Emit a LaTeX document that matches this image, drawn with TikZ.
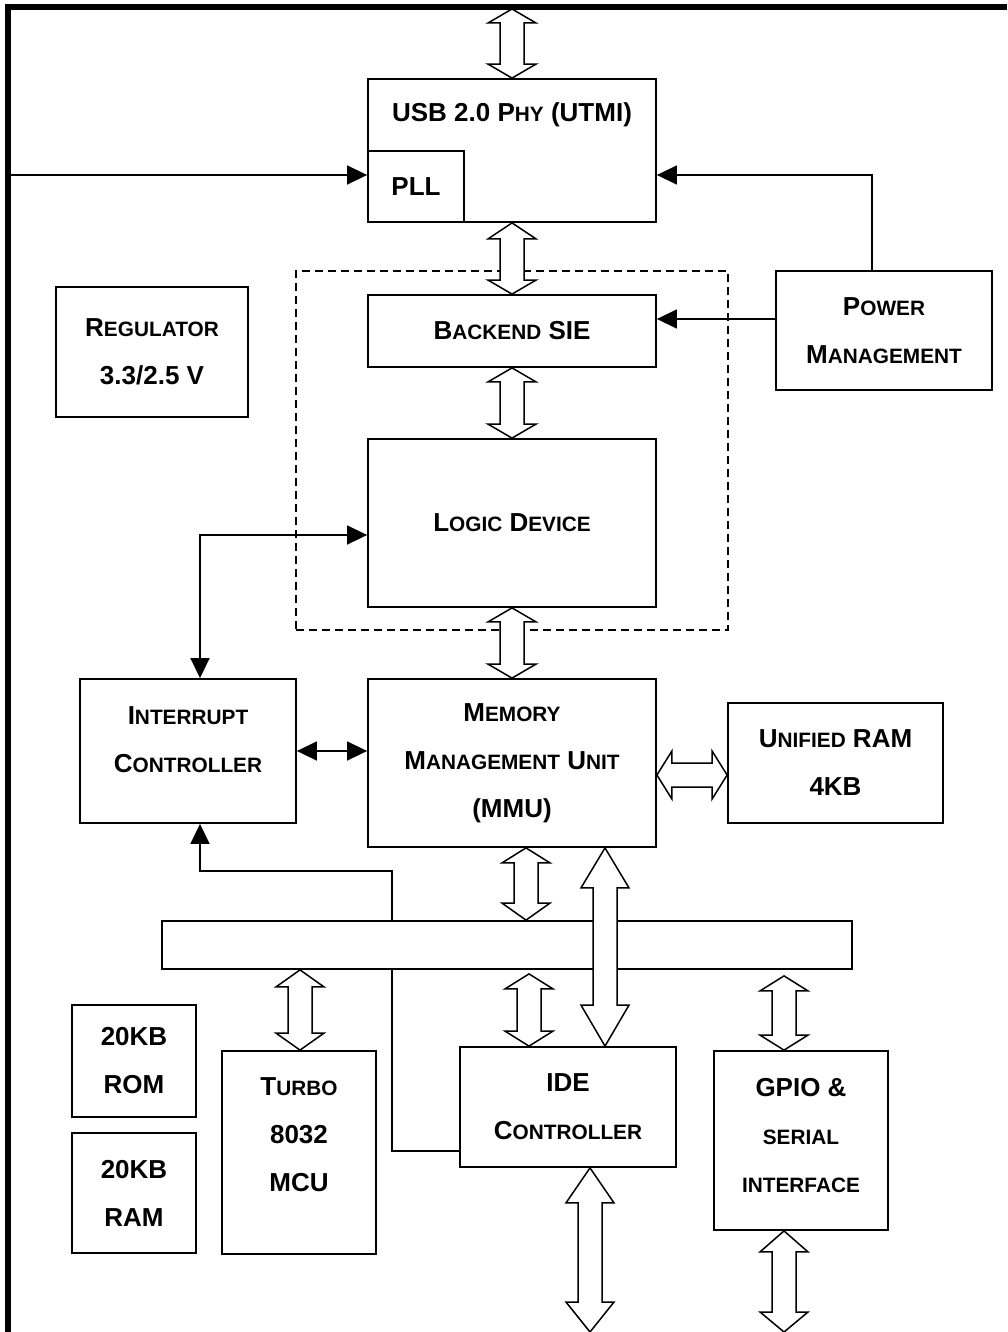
\documentclass[tikz,border=0pt]{standalone}
\usepackage{fontspec}
\setmainfont{Liberation Sans}
\usetikzlibrary{arrows.meta,calc}
\newcommand\sca[1]{{\fontsize{20.8}{48}\selectfont #1}}
% hollow double arrow: {start}{end}{head length at start}{head length at end}
\newcommand\hollowarrow[4]{%
  \path #1 coordinate (hA) #2 coordinate (hB);
  \path ($(hA)!#3pt!(hB)$) coordinate (hA1) ($(hB)!#4pt!(hA)$) coordinate (hB1);
  \draw[hollow] (hA) -- ($(hA1)!24pt!90:(hB)$) -- ($(hA1)!12pt!90:(hB)$)
    -- ($(hB1)!12pt!-90:(hA)$) -- ($(hB1)!24pt!-90:(hA)$) -- (hB)
    -- ($(hB1)!24pt!90:(hA)$) -- ($(hB1)!12pt!90:(hA)$)
    -- ($(hA1)!12pt!-90:(hB)$) -- ($(hA1)!24pt!-90:(hB)$) -- cycle;}
\begin{document}
\begin{tikzpicture}[x=1pt,y=-1pt,
  font=\bfseries\fontsize{26}{48}\selectfont,
  box/.style={draw, line width=1.8pt, fill=white, inner sep=0pt, align=center},
  txt/.style={inner sep=0pt, align=center},
  dbox/.style={draw, line width=1.5pt, dash pattern=on 8pt off 5pt, inner sep=0pt},
  conn/.style={line width=1.5pt},
  hollow/.style={draw, line width=1.5pt, fill=white, line join=miter},
  >={Triangle[length=20pt,width=19pt]}]
\useasboundingbox (0,0) rectangle (1007,1332);
% frame
\draw[line width=5.5pt] (8,1332) -- (8,7) -- (1007,7);
% group of SIE and logic device
\node[dbox, minimum width=432pt, minimum height=359pt] (grp) at (512,450.5) {};
% blocks
\node[box, minimum width=288pt, minimum height=143pt] (phy) at (512,150.5) {};
\node[txt] (phyt) at (512,115) {USB 2.0 P\sca{HY} (UTMI)};
\node[box, minimum width=96pt, minimum height=71pt] (pll) at (416,186.5) {PLL};
\node[box, minimum width=288pt, minimum height=72pt] (sie) at (512,331) {B\sca{ACKEND} SIE};
\node[box, minimum width=288pt, minimum height=168pt] (logic) at (512,523) {L\sca{OGIC} D\sca{EVICE}};
\node[box, minimum width=216pt, minimum height=119pt] (pm) at (884,330.5) {P\sca{OWER}\\M\sca{ANAGEMENT}};
\node[box, minimum width=192pt, minimum height=130pt] (reg) at (152,352) {R\sca{EGULATOR}\\3.3/2.5 V};
\node[box, minimum width=216pt, minimum height=144pt] (intr) at (188,751) {};
\node[txt] (intrt) at (188,739.5) {I\sca{NTERRUPT}\\C\sca{ONTROLLER}};
\node[box, minimum width=288pt, minimum height=168pt] (mmu) at (512,763) {M\sca{EMORY}\\M\sca{ANAGEMENT} U\sca{NIT}\\(MMU)};
\node[box, minimum width=215pt, minimum height=120pt] (uram) at (835.5,763) {U\sca{NIFIED} RAM\\4KB};
\node[box, minimum width=690pt, minimum height=48pt] (bus) at (507,945) {};
\node[box, minimum width=124pt, minimum height=112pt] (rom) at (134,1061) {20KB\\ROM};
\node[box, minimum width=124pt, minimum height=120pt] (ram) at (134,1193) {20KB\\RAM};
\node[box, minimum width=154pt, minimum height=203pt] (turbo) at (299,1152.5) {};
\node[txt] (turbot) at (299,1135) {T\sca{URBO}\\8032\\MCU};
\node[box, minimum width=216pt, minimum height=120pt] (ide) at (568,1107) {IDE\\C\sca{ONTROLLER}};
\node[box, minimum width=174pt, minimum height=179pt] (gpio) at (801,1140.5) {};
\node[txt] (gpiot) at (801,1135.5) {GPIO \&\\\sca{SERIAL}\\\sca{INTERFACE}};
% helper coordinates
\coordinate (clk) at (8,175);
\coordinate (ext) at (512,9);
\coordinate (ideout) at (590,1332);
\coordinate (gpioout) at (784,1332);
\coordinate (xpm) at (872,0);
\coordinate (ysie) at (0,319);
\coordinate (ylog) at (0,535);
\coordinate (xint) at (200,0);
\coordinate (xv) at (392,0);
\coordinate (yirq) at (0,871);
\coordinate (yide) at (0,1151);
\coordinate (xa) at (526,0);
\coordinate (xb) at (605,0);
\coordinate (xt) at (300,0);
\coordinate (xi) at (529,0);
\coordinate (xg) at (784,0);
% thin connectors
\draw[conn,->] (clk) -- (pll.west |- clk);
\draw[conn,->] (pm.north -| xpm) |- (phy.east |- clk);
\draw[conn,->] (pm.west |- ysie) -- (sie.east |- ysie);
\draw[conn,<->] (logic.west |- ylog) -| (intr.north -| xint);
\draw[conn,<->] (intr.east) -- (mmu.west |- intr.east);
\draw[conn,->] (bus.north -| xv) |- (xint |- yirq) -- (intr.south -| xint);
\draw[conn] (bus.south -| xv) |- (ide.west |- yide);
% hollow bus arrows
\hollowarrow{(ext)}{(phy.north)}{14}{14}
\hollowarrow{(phy.south)}{(sie.north)}{16}{14}
\hollowarrow{(sie.south)}{(logic.north)}{14}{14}
\hollowarrow{(logic.south)}{(mmu.north)}{14}{14}
\hollowarrow{($(mmu.east)+(0,12)$)}{($(uram.west)+(0,12)$)}{15}{15}
\hollowarrow{(mmu.south -| xa)}{(bus.north -| xa)}{15}{17}
\hollowarrow{(bus.south -| xt)}{(turbo.north -| xt)}{17}{17}
\hollowarrow{($(bus.south -| xi)+(0,4)$)}{(ide.north -| xi)}{15}{15}
\hollowarrow{($(bus.south -| xg)+(0,6)$)}{(gpio.north -| xg)}{15}{15}
\hollowarrow{(mmu.south -| xb)}{(ide.north -| xb)}{40}{41}
\hollowarrow{(ide.south -| ideout)}{(ideout)}{35}{30}
\hollowarrow{(gpio.south -| gpioout)}{(gpioout)}{21}{20}
\end{tikzpicture}
\end{document}
